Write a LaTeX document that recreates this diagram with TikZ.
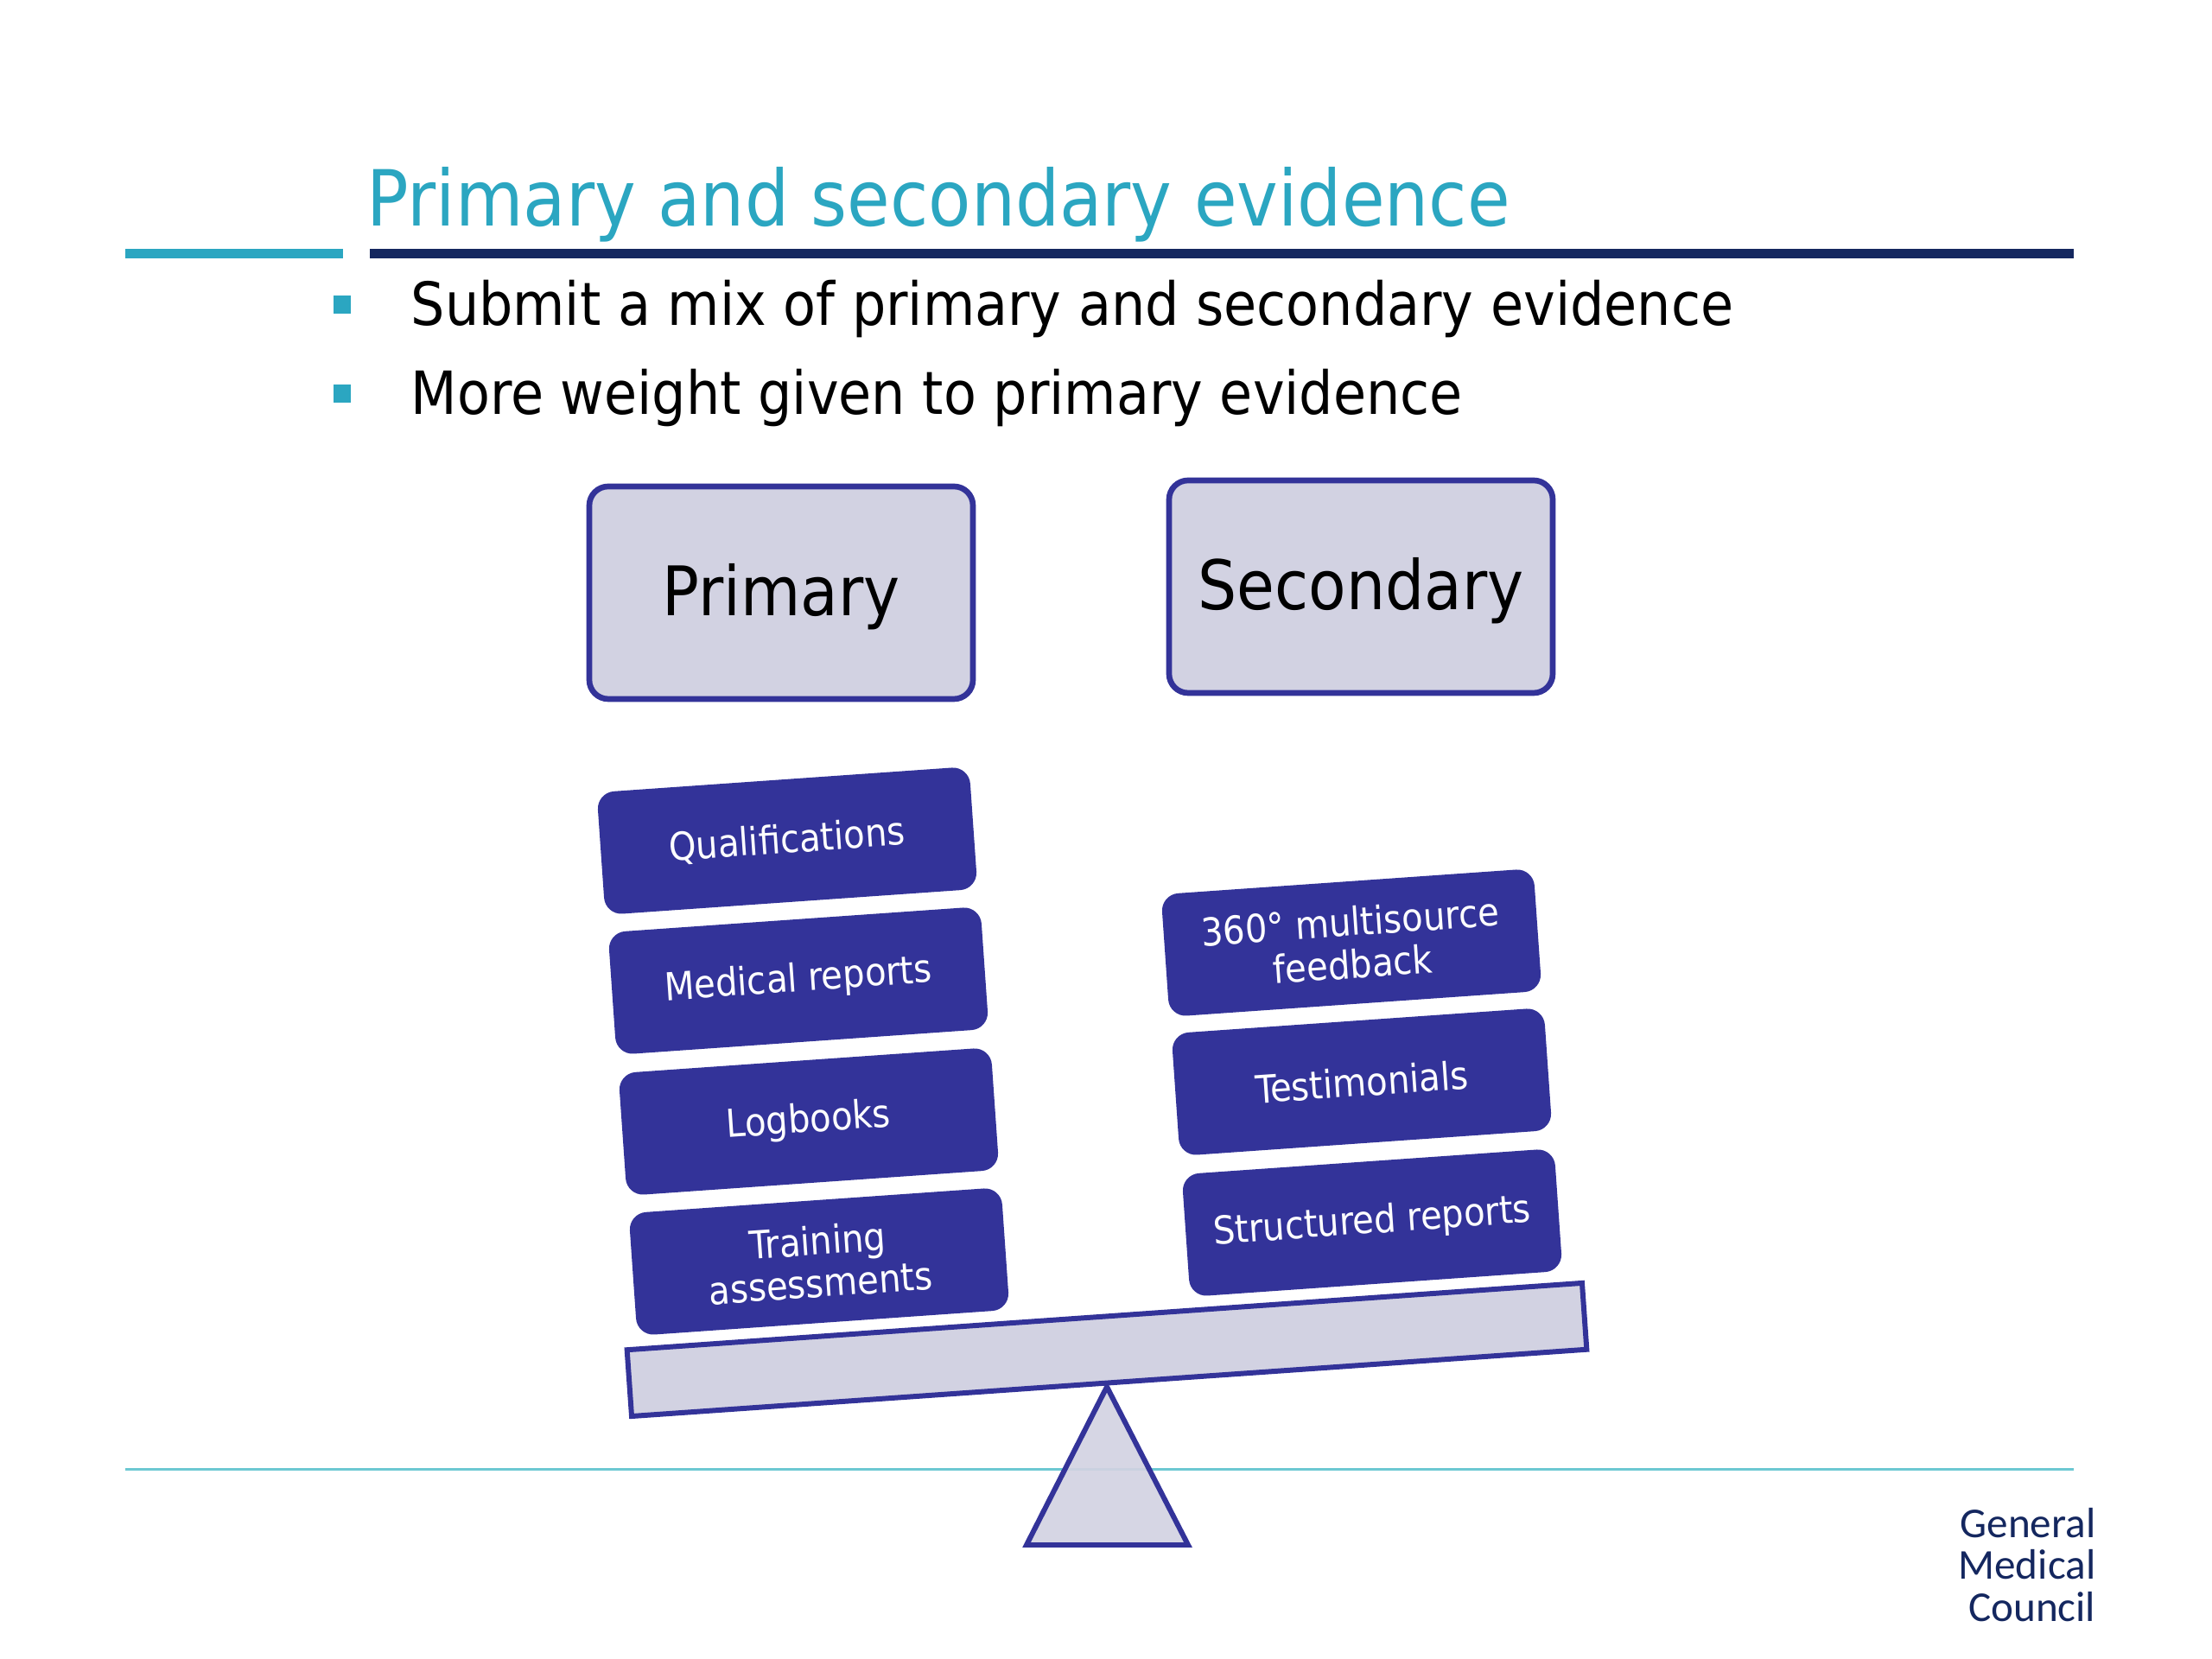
\documentclass[tikz,border=0pt]{standalone}
\usepackage{fontspec}
\setmainfont{DejaVu Sans Condensed}
\newfontfamily\logofont{Carlito}
\usepackage{xcolor}
\usetikzlibrary{positioning}
\definecolor{gmcTeal}{HTML}{2BA6C1}
\definecolor{gmcNavy}{HTML}{14275F}
\definecolor{gmcLine}{HTML}{6CC8D2}
\definecolor{itemBlue}{HTML}{333399}
\definecolor{paleBlue}{HTML}{D2D2E2}
\tikzset{
  headBox/.style={draw=itemBlue, fill=paleBlue, line width=1.9pt, rounded corners=0.22cm,
    minimum width=4.44cm, minimum height=2.46cm, text height=0.72cm, text depth=0.19cm,
    font=\fontsize{22.5}{26}\selectfont},
  itemBox/.style={fill=itemBlue, text=white, rounded corners=0.2cm, rotate=4, align=center,
    minimum width=4.32cm, minimum height=1.42cm, font=\fontsize{12.7}{14}\selectfont},
  bulletText/.style={anchor=base west, inner sep=0pt, font=\fontsize{19.6}{24}\selectfont},
  logoText/.style={anchor=base east, inner sep=0pt, text=gmcNavy, font=\logofont\fontsize{14}{16}\selectfont}
}
\begin{document}
\begin{tikzpicture}
  \useasboundingbox (0,0) rectangle (25.6,19.2);

  % title and rules
  \node[anchor=base west, inner sep=0pt, text=gmcTeal, font=\fontsize{25.5}{30}\selectfont] (titleText) at (4.24, 16.58) {Primary and secondary evidence};
  \draw[gmcTeal, line width=0.11cm] (1.45,16.26)--(3.97,16.26);
  \draw[gmcNavy, line width=0.11cm] (4.28,16.26)--(24.0,16.26);

  % bullets
  \fill[gmcTeal] (3.86,15.57) rectangle (4.06,15.78);
  \fill[gmcTeal] (3.86,14.54) rectangle (4.06,14.75);
  \node[bulletText] (mixText) at (4.75, 15.43) {Submit a mix of primary and secondary evidence};
  \node[bulletText] (weightText) at (4.75, 14.40) {More weight given to primary evidence};

  % headings
  \node[headBox] (primaryBox) at (9.04, 12.34) {Primary};
  \node[headBox] (secondaryBox) at (15.75, 12.41) {Secondary};

  % primary items
  \node[itemBox] (qualBox) at (9.11, 9.47) {Qualifications};
  \node[itemBox] (medicalBox) at (9.24, 7.85) {Medical reports};
  \node[itemBox] (logBox) at (9.36, 6.22) {Logbooks};
  \node[itemBox] (trainBox) at (9.48, 4.60) {Training\\assessments};

  % secondary items
  \node[itemBox] (feedbackBox) at (15.64, 8.29) {360° multisource\\feedback};
  \node[itemBox] (testBox) at (15.76, 6.68) {Testimonials};
  \node[itemBox] (structBox) at (15.88, 5.05) {Structured reports};

  % scale
  \draw[gmcLine, line width=0.03cm] (1.45,2.19)--(24.0,2.19);
  \node[draw=itemBlue, fill=paleBlue, line width=1.7pt, rotate=4, minimum width=11.08cm, minimum height=0.77cm] (beamBar) at (12.81, 3.58) {};
  \draw[itemBlue, fill=paleBlue, fill opacity=0.92, line width=1.7pt] (12.81,3.15)--(13.75,1.32)--(11.88,1.32)--cycle;

  % logo
  \node[logoText] (logoA) at (24.26, 1.40) {General};
  \node[logoText] (logoB) at (24.26, 0.92) {Medical};
  \node[logoText] (logoC) at (24.26, 0.43) {Council};
\end{tikzpicture}
\end{document}
